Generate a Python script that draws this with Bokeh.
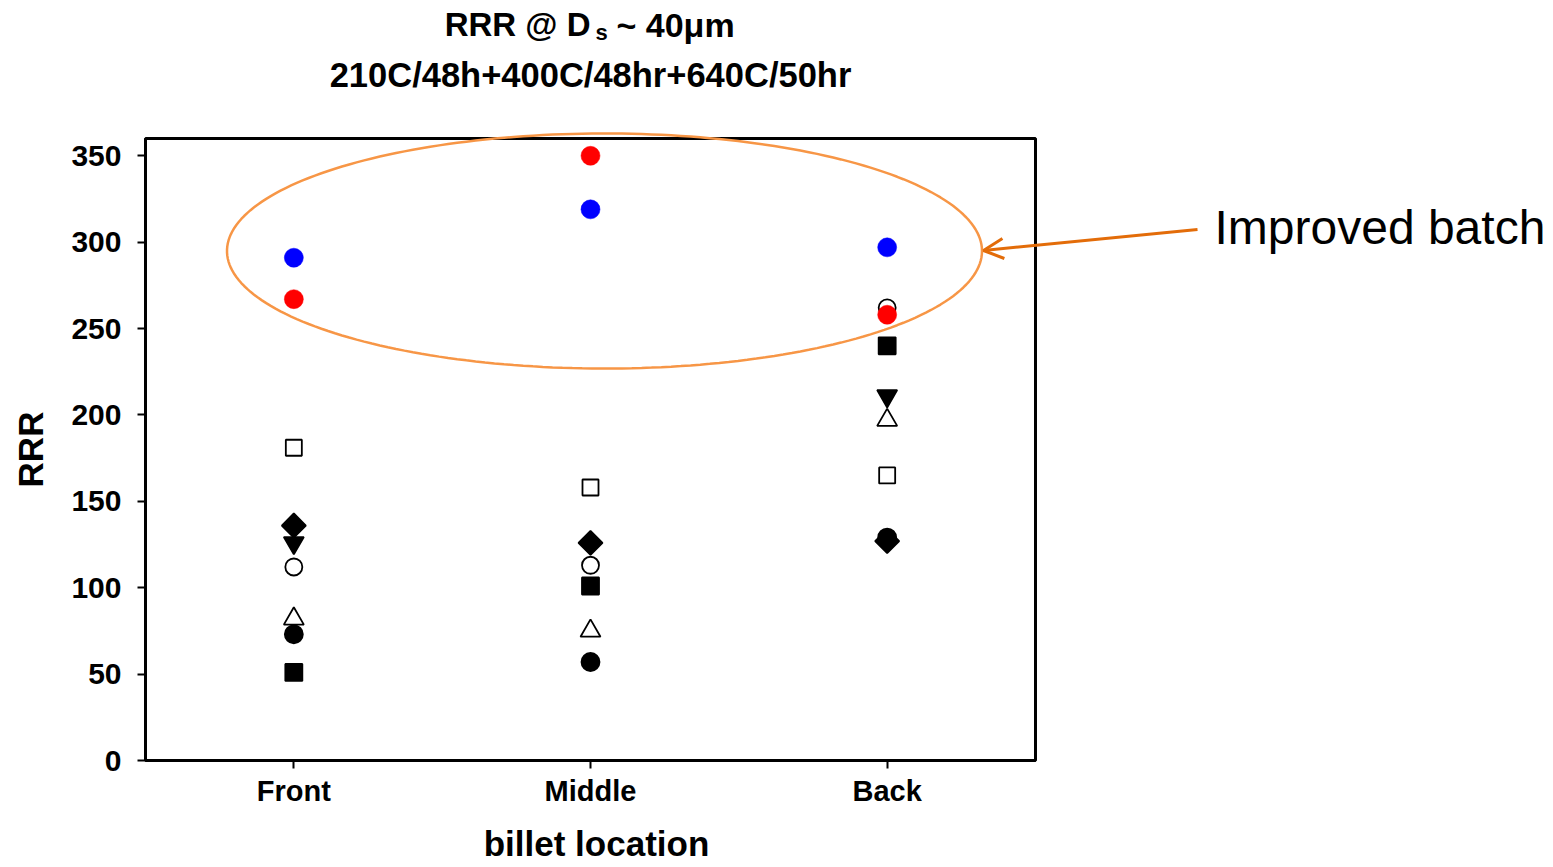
import numpy as np
from bokeh.plotting import figure
from bokeh.models import (ColumnDataSource, Label, Arrow, OpenHead, PolyAnnotation,
                          BoxAnnotation, FixedTicker)
from bokeh.embed import file_html
from bokeh.resources import INLINE

# ---- data ----
locations = ["Front", "Middle", "Back"]
loc_pos = [1, 2, 3]
y_ticks = [0, 50, 100, 150, 200, 250, 300, 350]

blue_circle = [291, 319, 297]
red_circle = [267, 350, 258]
open_square = [181, 158, 165]
filled_diamond = [136, 126, 127]
filled_down_tri = [126, float("nan"), 211]
open_circle = [112, 113, 262]
open_triangle = [82, 75, 197]
filled_circle = [73, 57, 129]
filled_square = [51, 101, 240]

FONT = "Liberation Sans"
W, H = 1550, 865

# axis box (page px): x 145..1035, y 138..760 ; data x 0.5..3.5, y 0..360
BX0, BX1, BY0, BY1 = 0.5, 3.5, 0, 360
FL, FR, FT, FB = 145, 1035, 138, 760
SX = (FR - FL) / (BX1 - BX0)
SY = (FB - FT) / (BY1 - BY0)
def dx(px):
    return BX0 + (px - FL) / SX
def dy(py):
    return BY0 + (FB - py) / SY

p = figure(width=W, height=H, title=None,
           x_range=(dx(0), dx(W)), y_range=(dy(H), dy(0)),
           output_backend="svg", toolbar_location=None,
           min_border_left=0, min_border_right=0,
           min_border_top=0, min_border_bottom=0)
p.xgrid.visible = False
p.ygrid.visible = False
p.outline_line_color = None
p.background_fill_color = "white"
p.border_fill_color = "white"

# box around the data area
p.add_layout(BoxAnnotation(left=BX0, right=BX1, bottom=BY0, top=BY1,
                           fill_color=None, fill_alpha=0,
                           line_color="black", line_alpha=1, line_width=3))

def add(vals, marker, fill, line, size, lw=1.8, angle=0.0):
    src = ColumnDataSource(dict(x=loc_pos, y=vals))
    p.scatter("x", "y", source=src, marker=marker, size=size, angle=angle,
              fill_color=fill, line_color=line, line_width=lw)

add(open_triangle, "triangle", "white", "black", 20)
add(filled_circle, "circle", "black", "black", 18)
add(filled_square, "square", "black", "black", 17)
add(open_square, "square", "white", "black", 16)
add(filled_down_tri, "inverted_triangle", "black", "black", 20)
add(filled_diamond, "square", "black", "black", 17, angle=np.pi / 4)
add(open_circle, "circle", "white", "black", 17)
add(red_circle, "circle", "#FF0000", "#FF0000", 19, lw=0.5)
add(blue_circle, "circle", "#0000FF", "#0000FF", 19, lw=0.5)

# axes (fixed at the data box edges)
for ax in (p.xaxis[0], p.yaxis[0]):
    ax.axis_line_width = 3
    ax.axis_line_color = "black"
    ax.major_tick_line_width = 2
    ax.major_tick_out = 8
    ax.major_tick_in = 0
    ax.minor_tick_line_color = None
    ax.major_label_text_font = FONT
    ax.major_label_text_font_style = "bold"
    ax.major_label_text_color = "black"

p.xaxis.fixed_location = BY0
p.xaxis.bounds = (BX0, BX1)
p.xaxis.ticker = FixedTicker(ticks=loc_pos)
p.xaxis.major_label_overrides = {k: v for k, v in zip(loc_pos, locations)}
p.xaxis.major_label_text_font_size = "29px"
p.xaxis.major_label_standoff = 6

p.yaxis.fixed_location = BX0
p.yaxis.bounds = (BY0, BY1)
p.yaxis.ticker = FixedTicker(ticks=y_ticks)
p.yaxis.major_label_text_font_size = "30px"
p.yaxis.major_label_standoff = 16

# axis titles
p.add_layout(Label(x=dx(596), y=dy(843), text="billet location", text_font=FONT,
                   text_font_style="bold", text_font_size="35px", text_color="black",
                   text_align="center", text_baseline="middle"))
p.add_layout(Label(x=dx(30), y=dy(449), text="RRR", text_font=FONT, angle=np.pi / 2,
                   text_font_style="bold", text_font_size="35px", text_color="black",
                   text_align="center", text_baseline="middle"))

# highlight ellipse
t = np.linspace(0, 2 * np.pi, 240)
cx, cy = dx(604), dy(250.5)
a, b = dx(604 + 377.5) - cx, dy(250.5 - 117.5) - cy
p.add_layout(PolyAnnotation(xs=list(cx + a * np.cos(t)), ys=list(cy + b * np.sin(t)),
                            fill_color=None, fill_alpha=0, line_color="#F79646",
                            line_alpha=1, line_width=2.5))

# arrow + annotation text
p.add_layout(Arrow(end=OpenHead(size=20, line_color="#E36C09", line_width=3),
                   x_start=dx(1197), y_start=dy(229), x_end=dx(983), y_end=dy(250),
                   line_color="#E36C09", line_width=3))
p.add_layout(Label(x=dx(1214), y=dy(227), text="Improved batch", text_font=FONT,
                   text_font_size="48px", text_color="black",
                   text_align="left", text_baseline="middle"))

# title (two lines, with subscript)
p.add_layout(Label(x=dx(590), y=dy(24), text="RRR @ D", text_font=FONT,
                   text_font_style="bold", text_font_size="33px", text_color="black",
                   text_align="right", text_baseline="alphabetic"))
p.add_layout(Label(x=dx(601), y=dy(32), text="s", text_font=FONT,
                   text_font_style="bold", text_font_size="22px", text_color="black",
                   text_align="center", text_baseline="alphabetic"))
p.add_layout(Label(x=dx(616), y=dy(24), text="~ 40\u03bcm", text_font=FONT,
                   text_font_style="bold", text_font_size="34px", text_color="black",
                   text_align="left", text_baseline="alphabetic"))
p.add_layout(Label(x=dx(590), y=dy(74), text="210C/48h+400C/48hr+640C/50hr",
                   text_font=FONT, text_font_style="bold", text_font_size="34.5px",
                   text_color="black", text_align="center", text_baseline="alphabetic"))

open("out.html", "w").write(file_html(p, INLINE))
